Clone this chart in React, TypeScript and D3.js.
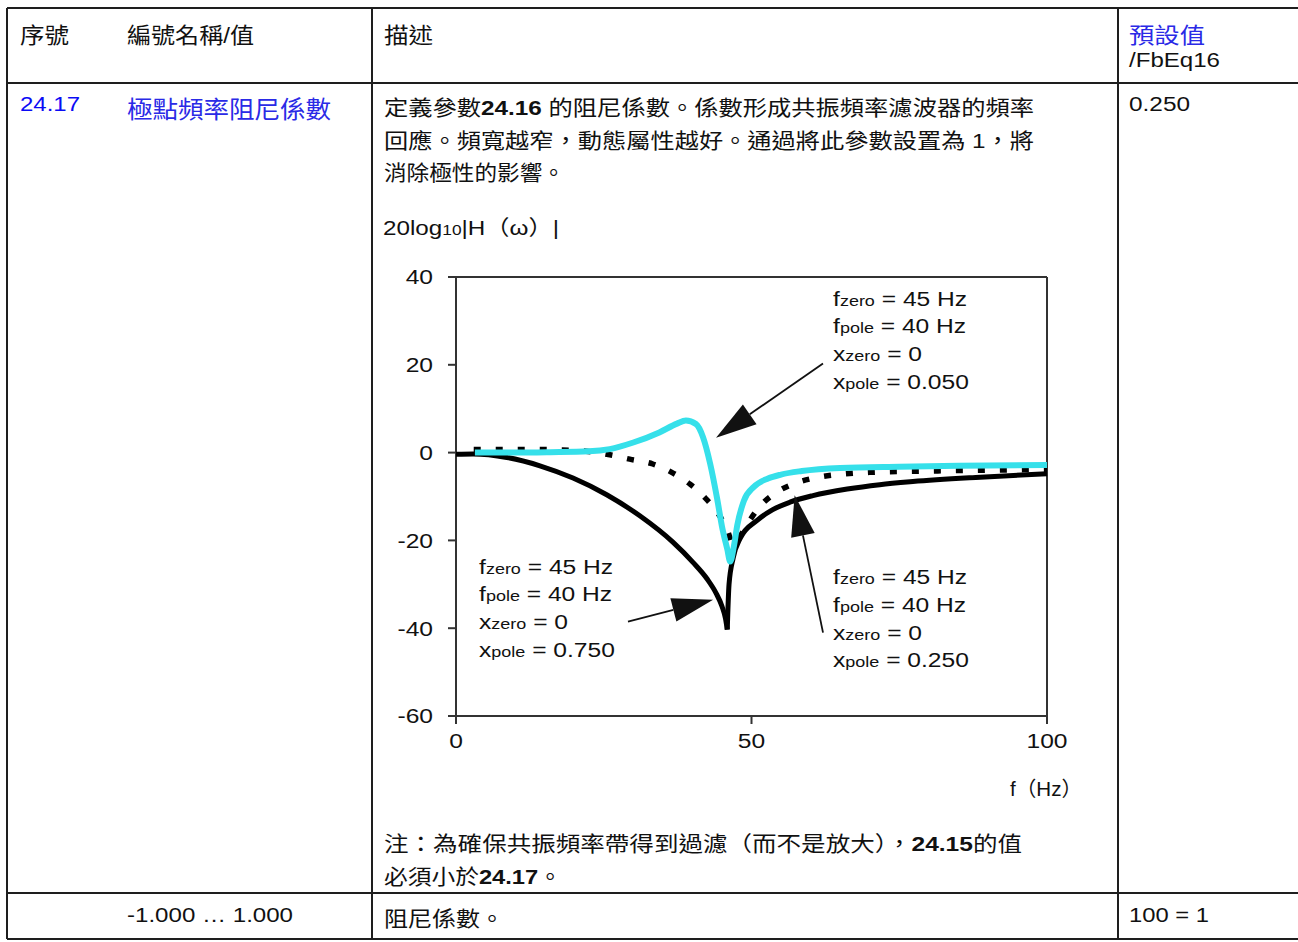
import React from 'react';
import * as d3 from 'd3';

// ---------- data ----------
const X_DOMAIN: [number, number] = [0, 100];
const Y_DOMAIN: [number, number] = [-60, 40];
const X_TICK_COUNT = 2;
const Y_TICK_COUNT = 5;

// xpole = 0.750 (solid black)
const solidF = [0, 2.9, 8.6, 14.2, 19.8, 25.5, 31.1, 36.7, 40.1, 42.5, 44.0, 45.0, 45.6, 45.9, 46.2, 46.9, 48.1, 50.9, 53.6, 56.5, 60.4, 66.2, 71.7, 77.3, 88.7, 100];
const solidDb = [-0.4, -0.3, -1.1, -3.0, -5.8, -9.6, -14.4, -20.4, -25.0, -28.8, -32.0, -35.0, -37.8, -40.3, -30.0, -24.0, -19.5, -15.5, -13.0, -11.3, -9.8, -8.3, -7.3, -6.6, -5.6, -4.8];

// xpole = 0.250 (dotted black)
const dottedF = [3, 8, 13, 18, 22, 26, 29.4, 33.3, 36.5, 39.6, 42.5, 44.7, 46, 46.9, 48.2, 49.2, 51.4, 54.3, 57.6, 61.8, 65.5, 70, 80, 90, 100];
const dottedDb = [0.7, 0.7, 0.7, 0.6, 0.3, -0.5, -1.5, -2.6, -4.5, -7.2, -10.8, -14.6, -18, -21, -18.8, -16.5, -12.3, -9, -6.9, -5.5, -4.9, -4.5, -4.2, -4.0, -3.8];

// xpole = 0.050 (cyan)
const cyanF = [3.2, 10, 16, 22.5, 26, 30, 34.4, 37.4, 38.9, 40.6, 41.8, 43, 44.2, 45, 45.9, 46.4, 47, 47.6, 48.7, 50.4, 52.8, 55, 58.5, 65, 75, 85, 100];
const cyanDb = [0, 0, 0.1, 0.3, 0.8, 2.3, 4.6, 6.6, 7.3, 6.5, 3.5, -2.5, -10.6, -16.8, -22, -24.8, -21.5, -16.5, -11, -7.8, -5.9, -5, -4.2, -3.5, -3.2, -3.0, -2.8];

// annotation labels: [symbol, subscript, rest]
const labelTopRight = [['f', 'zero', ' = 45 Hz'], ['f', 'pole', ' = 40 Hz'], ['x', 'zero', ' = 0'], ['x', 'pole', ' = 0.050']];
const labelLowLeft = [['f', 'zero', ' = 45 Hz'], ['f', 'pole', ' = 40 Hz'], ['x', 'zero', ' = 0'], ['x', 'pole', ' = 0.750']];
const labelLowRight = [['f', 'zero', ' = 45 Hz'], ['f', 'pole', ' = 40 Hz'], ['x', 'zero', ' = 0'], ['x', 'pole', ' = 0.250']];
// label anchor (data units) : [f, dB]
const labelPos = [[63.8, 33.5], [3.9, -27.6], [63.8, -30.0]];
// arrows (data units): [fromF, fromDb, toF, toDb]
const arrows = [
  [62.1, 20.3, 44.0, 3.4],
  [29.1, -38.5, 43.5, -33.5],
  [62.1, -41.0, 57.3, -9.7],
];

// table text
const headerCols = ['序號', '編號名稱/值', '描述', '預設值', '/FbEq16'];
const paramId = '24.17';
const paramName = '極點頻率阻尼係數';
const defaultVal = '0.250';
const rangeText = '-1.000 … 1.000';
const unitText = '阻尼係數。';
const scaleText = '100 = 1';

// ---------- layout ----------
const W = 1298;
const H = 942;
const PL = 456, PR = 1047, PT = 277, PB = 716;
const LAT = "'Liberation Sans', Arial, 'Noto Sans CJK TC', sans-serif";
const CJK = "'Liberation Sans', Arial, 'Noto Sans CJK TC', sans-serif";
const BLUE = '#2a2ae6';
const BLUE2 = '#0b0bf5';
const CYAN = '#36e0ea';
const LINE = '#1e1e1e';
const FS = 20.5;
const SX = 1.2;

type P = [number, number];

export default function App() {
  const x = d3.scaleLinear().domain(X_DOMAIN).range([PL, PR]);
  const y = d3.scaleLinear().domain(Y_DOMAIN).range([PB, PT]);

  const line = d3.line<P>()
    .x(d => x(d[0]))
    .y(d => y(d[1]))
    .curve(d3.curveMonotoneX);

  // solid curve: split at its notch so that the cusp stays sharp
  const solidPts: P[] = solidF.map((f, i) => [f, solidDb[i]]);
  const minIdx = d3.minIndex(solidDb);
  const solidLeft = line(solidPts.slice(0, minIdx + 1)) || '';
  const solidRight = line(solidPts.slice(minIdx)) || '';
  const dotted = line(dottedF.map((f, i) => [f, dottedDb[i]] as P)) || '';
  const cyan = line(cyanF.map((f, i) => [f, cyanDb[i]] as P)) || '';

  const xTicks = x.ticks(X_TICK_COUNT);
  const yTicks = y.ticks(Y_TICK_COUNT);

  const renderLabel = (lines: string[][], pos: number[], key: string) => {
    const px = x(pos[0]);
    const py = y(pos[1]);
    return (
      <g key={key} transform={`translate(${px},${py}) scale(${SX},1)`}>
        {lines.map((l, i) => (
          <text key={i} x={0} y={i * 27.7} fontFamily={LAT} fontSize={FS} fill="#111">
            <tspan>{l[0]}</tspan>
            <tspan fontSize={15}>{l[1]}</tspan>
            <tspan>{l[2]}</tspan>
          </text>
        ))}
      </g>
    );
  };

  const renderArrow = (a: number[], i: number) => {
    const x1 = x(a[0]), y1 = y(a[1]), x2 = x(a[2]), y2 = y(a[3]);
    const ang = Math.atan2(y2 - y1, x2 - x1);
    const len = 41, hw = 12;
    const bx = x2 - len * Math.cos(ang), by = y2 - len * Math.sin(ang);
    const nx = -Math.sin(ang), ny = Math.cos(ang);
    const pts = `${x2},${y2} ${bx + nx * hw},${by + ny * hw} ${bx - nx * hw},${by - ny * hw}`;
    return (
      <g key={'arr' + i}>
        <line x1={x1} y1={y1} x2={bx} y2={by} stroke="#111" strokeWidth={1.8} />
        <polygon points={pts} fill="#111" />
      </g>
    );
  };

  return (
    <svg width={W} height={H} style={{ position: 'absolute', left: 0, top: 0, background: '#fff' }}>
      <rect x={0} y={0} width={W} height={H} fill="#fff" />

      {/* table grid */}
      <g stroke={LINE} strokeWidth={2}>
        <line x1={7} y1={8} x2={W} y2={8} />
        <line x1={7} y1={83} x2={W} y2={83} />
        <line x1={7} y1={893} x2={W} y2={893} />
        <line x1={7} y1={939} x2={W} y2={939} />
        <line x1={7} y1={8} x2={7} y2={939} />
        <line x1={372} y1={8} x2={372} y2={939} />
        <line x1={1118} y1={8} x2={1118} y2={939} />
      </g>

      {/* header */}
      <g fontFamily={CJK} fill="#111">
        <text x={20} y={43} fontSize={22} textLength={49} lengthAdjust="spacingAndGlyphs">{headerCols[0]}</text>
        <text x={127} y={43} fontSize={22} textLength={127} lengthAdjust="spacingAndGlyphs">{headerCols[1]}</text>
        <text x={384} y={43} fontSize={22} textLength={49} lengthAdjust="spacingAndGlyphs">{headerCols[2]}</text>
        <text x={1129} y={43} fontSize={22} fill={BLUE} textLength={76} lengthAdjust="spacingAndGlyphs">{headerCols[3]}</text>
        <text x={1129} y={67} fontSize={20} textLength={91} lengthAdjust="spacingAndGlyphs">{headerCols[4]}</text>
      </g>

      {/* parameter row */}
      <g fontFamily={CJK} fill="#111">
        <text x={20} y={111} fontSize={20} fill={BLUE2} textLength={60} lengthAdjust="spacingAndGlyphs">{paramId}</text>
        <text x={127} y={118} fontSize={24} fill={BLUE} textLength={204} lengthAdjust="spacingAndGlyphs">{paramName}</text>
        <text x={1129} y={111} fontSize={20} textLength={61} lengthAdjust="spacingAndGlyphs">{defaultVal}</text>

        <text x={384} y={115} fontSize={21} textLength={650} lengthAdjust="spacingAndGlyphs">
          定義參數<tspan fontWeight="bold">24.16</tspan> 的阻尼係數。係數形成共振頻率濾波器的頻率
        </text>
        <text x={384} y={148} fontSize={21} textLength={650} lengthAdjust="spacingAndGlyphs">
          回應。頻寬越窄，動態屬性越好。通過將此參數設置為 1，將
        </text>
        <text x={384} y={180} fontSize={21} textLength={181} lengthAdjust="spacingAndGlyphs">消除極性的影響。</text>

        <text x={383} y={235} fontSize={21} textLength={176} lengthAdjust="spacingAndGlyphs">
          20log<tspan fontSize={15}>10</tspan>|H（ω）|
        </text>

        <text x={384} y={851} fontSize={21} textLength={638} lengthAdjust="spacingAndGlyphs">
          注：為確保共振頻率帶得到過濾（而不是放大），<tspan fontWeight="bold">24.15</tspan>的值
        </text>
        <text x={384} y={884} fontSize={21} textLength={178} lengthAdjust="spacingAndGlyphs">
          必須小於<tspan fontWeight="bold">24.17</tspan>。
        </text>

        <text x={127} y={922} fontSize={20} textLength={166} lengthAdjust="spacingAndGlyphs">{rangeText}</text>
        <text x={384} y={926} fontSize={21} textLength={120} lengthAdjust="spacingAndGlyphs">{unitText}</text>
        <text x={1129} y={922} fontSize={20} textLength={80} lengthAdjust="spacingAndGlyphs">{scaleText}</text>
      </g>

      {/* chart frame */}
      <g stroke="#333" strokeWidth={2} fill="none">
        <line x1={PL - 7} y1={PT} x2={PR} y2={PT} />
        <line x1={PR} y1={PT} x2={PR} y2={PB} />
        <line x1={PL} y1={PT} x2={PL} y2={PB} />
        <line x1={PL - 7} y1={PB} x2={PR} y2={PB} />
        {yTicks.map(t => (
          <line key={'yt' + t} x1={PL - 8} y1={y(t)} x2={PL} y2={y(t)} />
        ))}
        {xTicks.map(t => (
          <line key={'xt' + t} x1={x(t)} y1={PB} x2={x(t)} y2={PB + 8} />
        ))}
      </g>

      {/* tick labels */}
      <g fontFamily={LAT} fontSize={FS} fill="#111">
        {yTicks.map(t => (
          <text key={'yl' + t} transform={`translate(${PL - 23},${y(t) + 7.3}) scale(${SX},1)`} textAnchor="end">{t}</text>
        ))}
        {xTicks.map(t => (
          <text key={'xl' + t} transform={`translate(${x(t)},${PB + 32}) scale(${SX},1)`} textAnchor="middle">{t}</text>
        ))}
        <text x={1010} y={796} textLength={72} lengthAdjust="spacingAndGlyphs">f（Hz）</text>
      </g>

      {/* curves */}
      <path d={solidLeft} fill="none" stroke="#000" strokeWidth={5} strokeLinejoin="round" />
      <path d={solidRight} fill="none" stroke="#000" strokeWidth={5} strokeLinejoin="round" />
      <path d={dotted} fill="none" stroke="#000" strokeWidth={5.5} strokeDasharray="7 15" />
      <path d={cyan} fill="none" stroke={CYAN} strokeWidth={6} strokeLinejoin="round" />

      {/* annotations */}
      {arrows.map(renderArrow)}
      {renderLabel(labelTopRight, labelPos[0], 'l0')}
      {renderLabel(labelLowLeft, labelPos[1], 'l1')}
      {renderLabel(labelLowRight, labelPos[2], 'l2')}
    </svg>
  );
}
